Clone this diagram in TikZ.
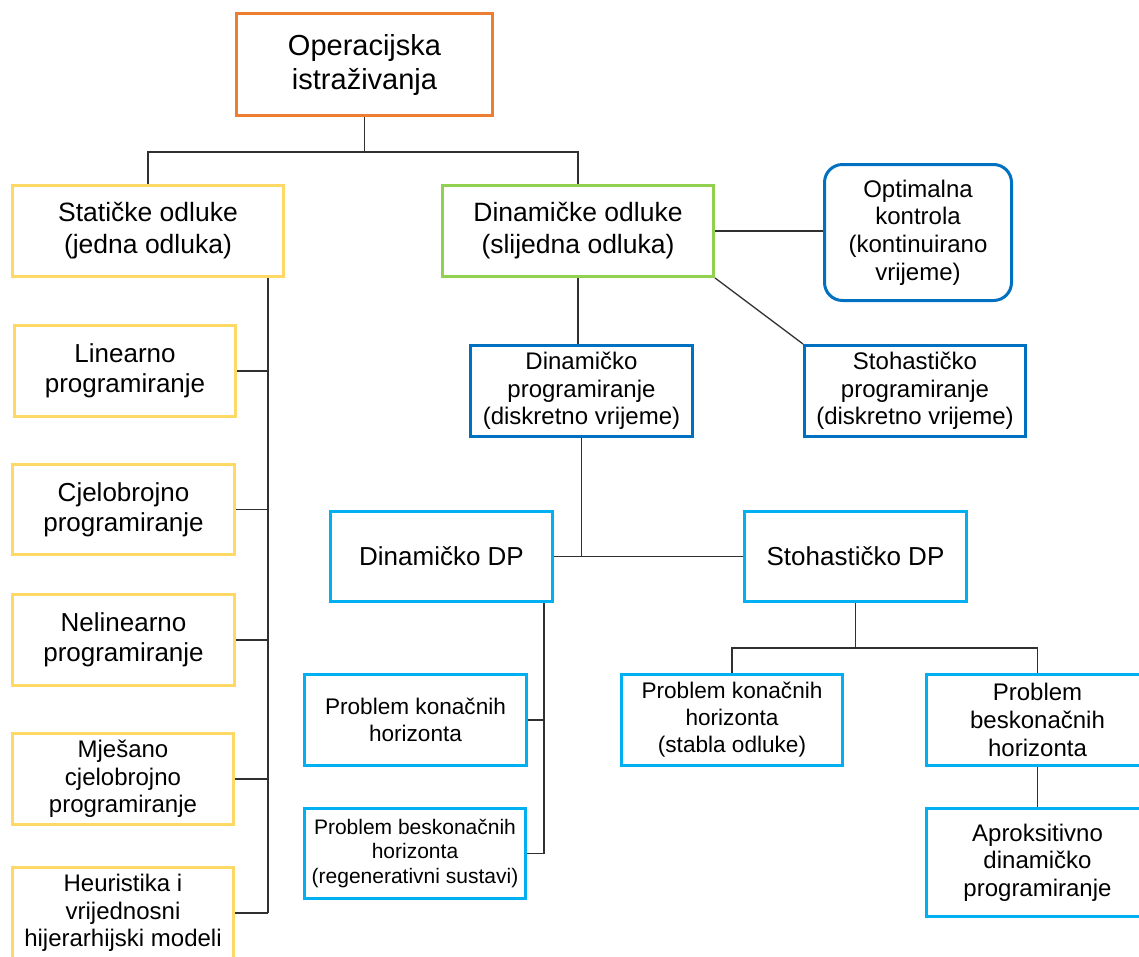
\documentclass[tikz,border=0pt]{standalone}
\usepackage{fontspec}
\setmainfont{Liberation Sans}
\definecolor{corange}{HTML}{ED7D31}
\definecolor{cyellow}{HTML}{FFD966}
\definecolor{cgreen}{HTML}{92D050}
\definecolor{cdblue}{HTML}{0070C0}
\definecolor{clblue}{HTML}{00B0F0}
\definecolor{cline}{HTML}{303030}
\tikzset{
  box/.style={draw, line width=3pt, align=center, inner sep=0pt, fill=white, text=black, rectangle},
  ybox/.style={box, draw=cyellow},
  gbox/.style={box, draw=cgreen},
  obox/.style={box, draw=corange},
  dbbox/.style={box, draw=cdblue},
  lbbox/.style={box, draw=clblue},
  conn/.style={draw=cline, line width=1.3pt},
  fA/.style={font=\fontsize{29}{34}\selectfont},
  fB/.style={font=\fontsize{26.5}{32}\selectfont},
  fC/.style={font=\fontsize{26}{30}\selectfont},
  fD/.style={font=\fontsize{24}{27.6}\selectfont},
  fE/.style={font=\fontsize{22.6}{27}\selectfont},
  fF/.style={font=\fontsize{21}{24.6}\selectfont},
}
\begin{document}
\begin{tikzpicture}[x=1pt,y=-1pt]
\useasboundingbox (0,0) rectangle (1139,956);
\clip (0,0) rectangle (1139,956);
\fill[white] (0,0) rectangle (1139,956);

% nodes
\node[obox, fA, minimum width=256, minimum height=102] (top) at (364.5,64.5) {Operacijska\\istraživanja};
\node[ybox, fB, minimum width=271, minimum height=91] (stat) at (148,231) {Statičke odluke\\(jedna odluka)};
\node[gbox, fB, minimum width=271, minimum height=91] (din) at (578,231) {Dinamičke odluke\\(slijedna odluka)};
\node[dbbox, fD, rounded corners=18pt, minimum width=187, minimum height=136] (opt) at (918,232.5) {Optimalna\\kontrola\\(kontinuirano\\vrijeme)};
\node[dbbox, fD, minimum width=221, minimum height=91] (sp) at (915,391) {Stohastičko\\programiranje\\(diskretno vrijeme)};
\node[dbbox, fD, minimum width=222, minimum height=91] (dp) at (581.5,391) {Dinamičko\\programiranje\\(diskretno vrijeme)};
\node[lbbox, fC, minimum width=222, minimum height=90] (dindp) at (441.5,556.5) {Dinamičko DP};
\node[lbbox, fC, minimum width=222, minimum height=90] (stodp) at (855.5,556.5) {Stohastičko DP};
\node[lbbox, fE, minimum width=222, minimum height=91] (pkh) at (415.5,720) {Problem konačnih\\horizonta};
\node[lbbox, fF, minimum width=221, minimum height=90] (pbh) at (415,853.5) {Problem beskonačnih\\horizonta\\(regenerativni sustavi)};
\node[lbbox, fE, minimum width=221, minimum height=91] (pks) at (732,720) {Problem konačnih\\horizonta\\(stabla odluke)};
\node[lbbox, fD, minimum width=222, minimum height=91] (pbs) at (1037.5,720) {Problem\\beskonačnih\\horizonta};
\node[lbbox, fD, minimum width=222, minimum height=108] (apr) at (1037.5,862.5) {Aproksitivno\\dinamičko\\programiranje};
\node[ybox, fC, minimum width=221, minimum height=91] (lin) at (125,371) {Linearno\\programiranje};
\node[ybox, fC, minimum width=222, minimum height=90] (cje) at (123.5,509.5) {Cjelobrojno\\programiranje};
\node[ybox, fC, minimum width=222, minimum height=91] (nel) at (123.5,640) {Nelinearno\\programiranje};
\node[ybox, fD, minimum width=221, minimum height=91] (mje) at (123,779) {Mješano\\cjelobrojno\\programiranje};
\node[ybox, fD, minimum width=221, minimum height=91] (heu) at (123,913) {Heuristika i\\vrijednosni\\hijerarhijski modeli};

% helper coordinates
\coordinate (j1) at (364.5,152);
\coordinate (tx) at (268,0);
\coordinate (tx2) at (544,0);
\coordinate (j3) at (855.5,648);

% connectors
\draw[conn] (top.south) -- (j1);
\draw[conn] (stat.north) |- (j1) -| (din.north);
\draw[conn] (stat.south -| tx) -- (heu.east -| tx);
\draw[conn] (lin.east) -- (lin.east -| tx);
\draw[conn] (cje.east) -- (cje.east -| tx);
\draw[conn] (nel.east) -- (nel.east -| tx);
\draw[conn] (mje.east) -- (mje.east -| tx);
\draw[conn] (heu.east) -- (heu.east -| tx);
\draw[conn] (din.east) -- (din.east -| opt.west);
\draw[conn] (din.south east) -- (sp.north west);
\draw[conn] (din.south) -- (din.south |- dp.north);
\draw[conn] (dp.south) -- (dp.south |- dindp.east);
\draw[conn] (dindp.east) -- (stodp.west);
\draw[conn] (dindp.south -| tx2) -- (pbh.east -| tx2);
\draw[conn] (pkh.east) -- (pkh.east -| tx2);
\draw[conn] (pbh.east) -- (pbh.east -| tx2);
\draw[conn] (stodp.south) -- (j3);
\draw[conn] (pks.north) |- (j3) -| (pbs.north);
\draw[conn] (pbs.south) -- (apr.north);
\end{tikzpicture}
\end{document}
